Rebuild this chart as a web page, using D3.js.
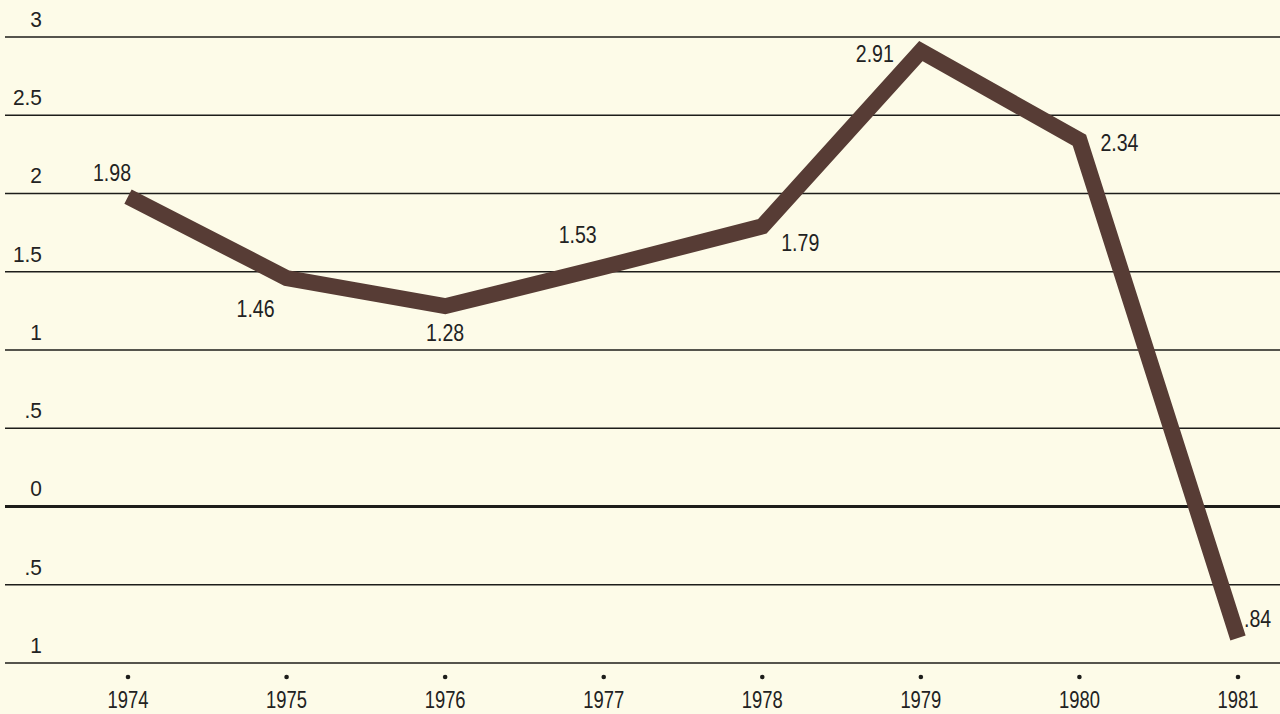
<!DOCTYPE html>
<html>
<head>
<meta charset="utf-8">
<script src="https://cdn.jsdelivr.net/npm/d3@7"></script>
<style>
  html, body { margin: 0; padding: 0; background: #fdfbe8; }
  svg { display: block; }
  text { font-family: "Liberation Sans", Arial, sans-serif; fill: #222; }
</style>
</head>
<body>
<script>
// Annual change, 1974–1981
const years = [1974, 1975, 1976, 1977, 1978, 1979, 1980, 1981];
const values = [1.98, 1.46, 1.28, 1.53, 1.79, 2.91, 2.34, -0.84];
const yTicks = [3, 2.5, 2, 1.5, 1, 0.5, 0, -0.5, -1];

const width = 1280, height = 714;

// placement of each value label around its point: [dx, dy, anchor]
const labelPlacement = [
  [-16, -16, "middle"],
  [-31, 39, "middle"],
  [0, 35, "middle"],
  [-26, -24, "middle"],
  [38, 25, "middle"],
  [-27, 11, "end"],
  [21, 11, "start"],
  [6, -11, "start"]
];

const svg = d3.select("body").append("svg")
  .attr("width", width)
  .attr("height", height);

svg.append("rect").attr("width", width).attr("height", height).attr("fill", "#fdfbe8");

const x = d3.scalePoint().domain(years).range([128, 1238]);
const y = d3.scaleLinear().domain([-1, 3]).range([663, 37]);

// numbers are printed without sign or leading zero
const fmt = v => {
  const a = Math.abs(v);
  let s = d3.format("~g")(a);
  if (a > 0 && a < 1) s = s.replace(/^0/, "");
  return s;
};

// slightly condensed type
const condensed = (sel, sx) => sel.attr("transform", function () {
  const tx = +this.getAttribute("x"), ty = +this.getAttribute("y");
  return `translate(${tx},${ty}) scale(${sx},1) translate(${-tx},${-ty})`;
});

// horizontal rules
const grid = svg.append("g");
grid.selectAll("line").data(yTicks).join("line")
  .attr("x1", 5).attr("x2", width)
  .attr("y1", d => y(d)).attr("y2", d => y(d))
  .attr("stroke", "#1d1d1a")
  .attr("stroke-width", d => d === 0 ? 3.2 : 1.7);

// tick labels on the left
grid.selectAll("text").data(yTicks).join("text")
  .attr("x", 42)
  .attr("y", d => y(d) - 10)
  .attr("text-anchor", "end")
  .attr("font-size", 22)
  .call(condensed, 0.95)
  .text(fmt);

// year labels with dots
const xAxis = svg.append("g");
xAxis.selectAll("circle").data(years).join("circle")
  .attr("cx", d => x(d)).attr("cy", 677).attr("r", 2.3).attr("fill", "#1d1d1a");
xAxis.selectAll("text").data(years).join("text")
  .attr("x", d => x(d))
  .attr("y", 708)
  .attr("text-anchor", "middle")
  .attr("font-size", 23)
  .call(condensed, 0.8)
  .text(d => d);

// the series line
const line = d3.line().x((d, i) => x(years[i])).y(d => y(d));
svg.append("path")
  .datum(values)
  .attr("d", line)
  .attr("fill", "none")
  .attr("stroke", "#573c35")
  .attr("stroke-width", 16)
  .attr("stroke-linejoin", "miter")
  .attr("stroke-miterlimit", 10)
  .attr("stroke-linecap", "butt");

// value labels
svg.append("g").selectAll("text").data(values).join("text")
  .attr("x", (d, i) => x(years[i]) + labelPlacement[i][0])
  .attr("y", (d, i) => y(d) + labelPlacement[i][1])
  .attr("text-anchor", (d, i) => labelPlacement[i][2])
  .attr("font-size", 23)
  .call(condensed, 0.85)
  .text(fmt);
</script>
</body>
</html>
